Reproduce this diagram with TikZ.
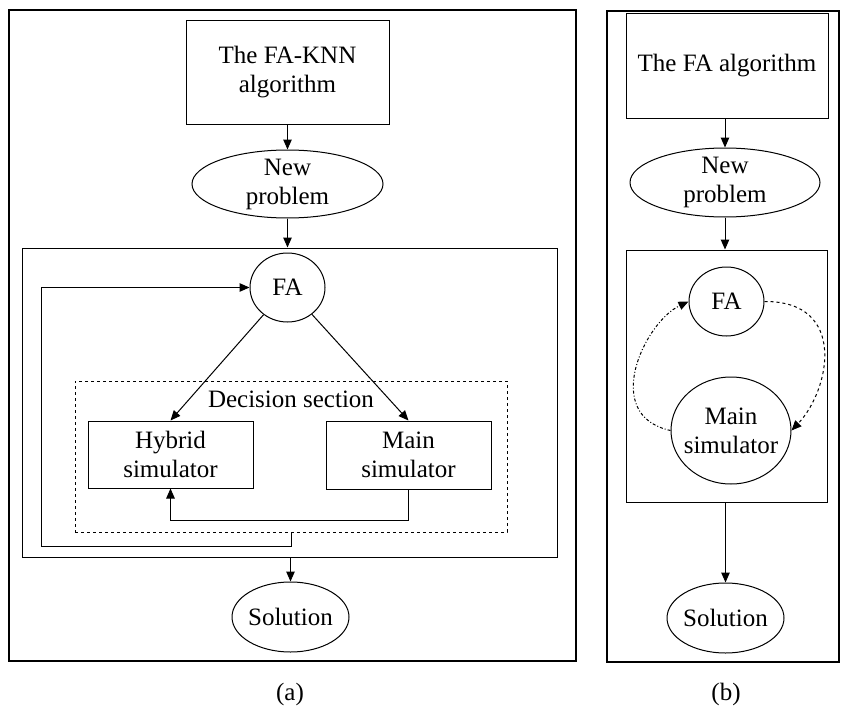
\documentclass[tikz,border=0pt]{standalone}
\usepackage{fontspec}
\setmainfont{Liberation Serif}
\usepackage{tikz}
\usetikzlibrary{positioning,shapes.geometric,arrows.meta}

\begin{document}
\begin{tikzpicture}[x=1pt,y=-1pt]

\tikzstyle{every node}=[font=\fontsize{25}{29}\selectfont]
\tikzstyle{blockbox}=[draw, line width=1pt, align=center, inner sep=0pt]
\tikzstyle{rectbox}=[blockbox, rectangle]
\tikzstyle{ovalbox}=[blockbox, ellipse, inner xsep=-15pt, inner ysep=-8pt]
\tikzstyle{groupbox}=[draw, line width=1pt, rectangle]
\tikzstyle{panel}=[draw, line width=2pt]
\tikzstyle{flow}=[line width=1pt, -{Triangle[length=10pt,width=8.5pt]}]

\newcommand{\rectbox}[4]{node (p#1) [rectbox, minimum width=#2pt, minimum height=#3pt] {#4}}
\newcommand{\ovalbox}[4]{node (p#1) [ovalbox, minimum width=#2pt, minimum height=#3pt] {#4}}
\newcommand{\groupbox}[3]{node (p#1) [groupbox, minimum width=#2pt, minimum height=#3pt] {}}

\useasboundingbox (0,0) rectangle (841,709);

% panel (a)
\draw[panel] (9,10) rectangle (576,661);
\path (287.5,72.5) \rectbox{AlgA}{203}{103}{The FA-KNN\\algorithm};
\path (287.5,184) \ovalbox{NewA}{191}{68}{New\\problem};
\path (289.5,402.5) \groupbox{LoopA}{535}{309};
\path (287.5,287.5) \ovalbox{FAA}{75}{69}{FA};
\path (291,456.5) node (pDec) [groupbox, dashed, minimum width=432pt, minimum height=151pt] {};
\path (291,399) node (pDecText) {Decision section};
\path (170.5,454.5) \rectbox{HybA}{165}{67}{Hybrid\\simulator};
\path (408.5,455) \rectbox{MainA}{165}{68}{Main\\simulator};
\path (290.5,617) \ovalbox{SolA}{117}{70}{Solution};
\path (290,694) node (pCapA) {(a)};
\coordinate (pCornerA) at (41,546);

\draw[flow] (pAlgA.south) -- (pNewA.north);
\draw[flow] (pNewA.south) -- (pNewA.south |- pLoopA.north);
\draw[flow] (pFAA) -- (pHybA.north);
\draw[flow] (pFAA) -- (pMainA.north);
\draw[flow] (pMainA.south) -- ++(0,31) -| (pHybA.south);
\draw[flow] (pDec.south) |- (pCornerA) |- (pFAA.west);
\draw[flow] (pSolA.north |- pLoopA.south) -- (pSolA.north);

% panel (b)
\draw[panel] (607,11) rectangle (839,662);
\path (727,66) \rectbox{AlgB}{202}{105}{The FA algorithm};
\path (725,182.5) \ovalbox{NewB}{190}{69}{New\\problem};
\path (726.5,376) \groupbox{LoopB}{201}{252};
\path (726.5,301.5) \ovalbox{FAB}{75}{69}{FA};
\path (731,430.5) \ovalbox{MainB}{120}{107}{Main\\simulator};
\path (725.5,618) \ovalbox{SolB}{117}{70}{Solution};
\path (726,694) node (pCapB) {(b)};

\draw[flow] (pNewB.north |- pAlgB.south) -- (pNewB.north);
\draw[flow] (pNewB.south) -- (pNewB.south |- pLoopB.north);
\draw[flow, dashed] (pFAB.east) .. controls (848,301) and (830,390) .. (pMainB.east);
\draw[flow, dash dot] (pMainB.west) .. controls (600,415) and (645,322) .. (pFAB.west);
\draw[flow] (pSolB.north |- pLoopB.south) -- (pSolB.north);

\end{tikzpicture}
\end{document}
